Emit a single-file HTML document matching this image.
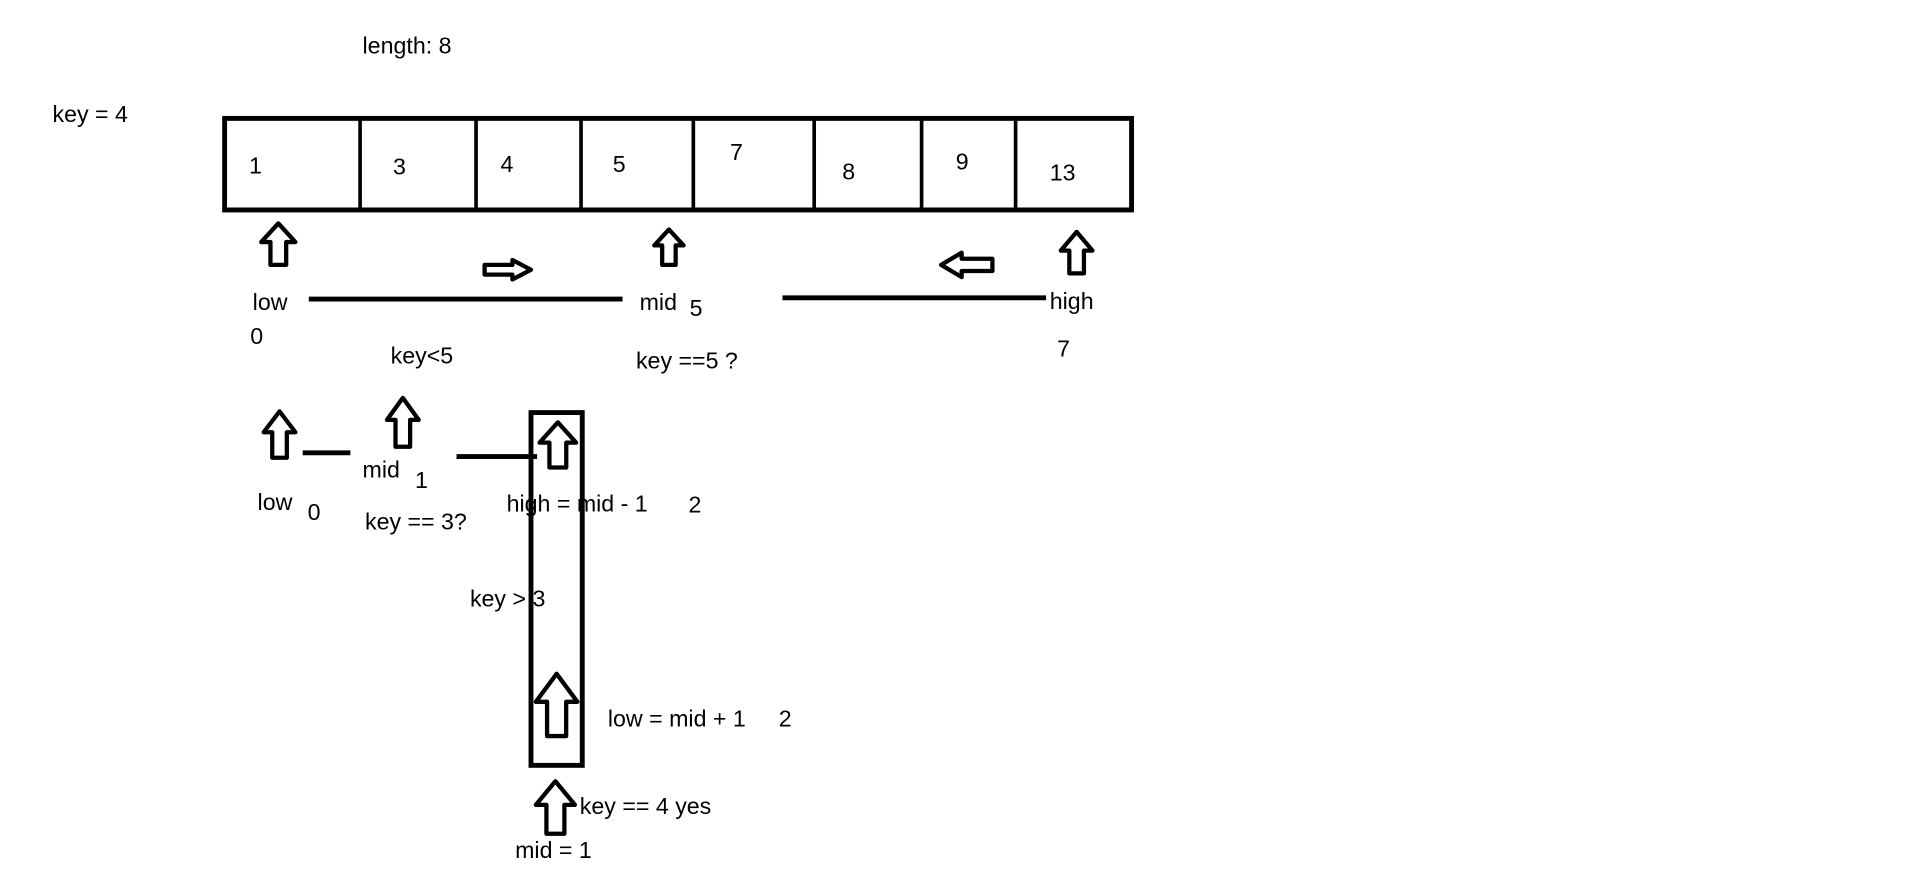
<!DOCTYPE html>
<html><head><meta charset="utf-8"><style>
html,body{margin:0;padding:0;background:#fff;width:1914px;height:889px;overflow:hidden}
svg text{font-family:"Liberation Sans",sans-serif;font-size:19px;fill:#000}
</style></head><body>
<svg id="s" width="1914" height="889" viewBox="0 0 1568 728.3" preserveAspectRatio="none" xmlns="http://www.w3.org/2000/svg">
<text x="297" y="44">length: 8</text>
<text x="43" y="100">key = 4</text>
<rect x="184" y="97" width="743" height="75" fill="none" stroke="#000" stroke-width="4"/>
<g id="cells"></g>
<line x1="253" y1="245" x2="510" y2="245" stroke="#000" stroke-width="4"/>
<line x1="641" y1="244" x2="857" y2="244" stroke="#000" stroke-width="4"/>
<text x="207" y="254">low</text>
<text x="205" y="282">0</text>
<text x="524" y="254">mid</text>
<text x="565" y="259">5</text>
<text x="860" y="253">high</text>
<text x="866" y="292">7</text>
<text x="320" y="298">key&lt;5</text>
<text x="521" y="302">key ==5 ?</text>
<line x1="248" y1="371" x2="287" y2="371" stroke="#000" stroke-width="4"/>
<line x1="374" y1="374" x2="440" y2="374" stroke="#000" stroke-width="4"/>
<rect x="435" y="338" width="42" height="289" fill="none" stroke="#000" stroke-width="4"/>
<text x="297" y="391">mid</text>
<text x="340" y="400">1</text>
<text x="211" y="418">low</text>
<text x="252" y="426">0</text>
<text x="415" y="419">high = mid - 1</text>
<text x="564" y="420">2</text>
<text x="299" y="434">key == 3?</text>
<text x="385" y="497">key &gt; 3</text>
<text x="498" y="595">low = mid + 1</text>
<text x="638" y="595">2</text>
<text x="475" y="667">key == 4 yes</text>
<text x="422" y="703">mid = 1</text>
<g id="arrows"></g>
</svg>
<script>
const values=[1,3,4,5,7,8,9,13];
const NS="http://www.w3.org/2000/svg";
const dividers=[295,390,476,568,667,755,832];
const lx=[204,322,410,502,598,690,783,860];
const ly=[142,143,141,141,131,147,139,148];
const cells=document.getElementById('cells');
dividers.forEach(x=>{const l=document.createElementNS(NS,'line');


l.setAttribute('x1',x);l.setAttribute('x2',x);l.setAttribute('y1',97);l.setAttribute('y2',172);
l.setAttribute('stroke','#000');l.setAttribute('stroke-width','3');cells.appendChild(l);});
values.forEach((v,i)=>{const t=document.createElementNS(NS,'text');


t.setAttribute('x',lx[i]);t.setAttribute('y',ly[i]);t.textContent=v;cells.appendChild(t);});
const ag=document.getElementById('arrows');
function up(cx,top,bot,w){const hw=w/2,sw=w*0.23,hh=(bot-top)*0.45;
return `M${cx},${top} L${cx+hw},${top+hh} L${cx+sw},${top+hh} L${cx+sw},${bot} L${cx-sw},${bot} L${cx-sw},${top+hh} L${cx-hw},${top+hh} Z`;}
function horiz(x1,x2,cy,h,dir){const hl=(x2-x1)*0.4,sh=h*0.25,hh=h/2;
if(dir>0)return `M${x2},${cy} L${x2-hl},${cy-hh} L${x2-hl},${cy-sh} L${x1},${cy-sh} L${x1},${cy+sh} L${x2-hl},${cy+sh} L${x2-hl},${cy+hh} Z`;
return `M${x1},${cy} L${x1+hl},${cy-hh} L${x1+hl},${cy-sh} L${x2},${cy-sh} L${x2},${cy+sh} L${x1+hl},${cy+sh} L${x1+hl},${cy+hh} Z`;}
const arrs=[up(228,183,217,28),up(548,188,217,24),up(882,190,224,26),horiz(397,435,221,16,1),horiz(771,813,217,20,-1),
up(229,337,375,26),up(330,326,366,26),up(457,346,383,30),up(456,552,603,34),up(455,640,683,32)];
arrs.forEach(d=>{const p=document.createElementNS(NS,'path');


p.setAttribute('d',d);p.setAttribute('fill','#fff');p.setAttribute('stroke','#000');p.setAttribute('stroke-width','3.5');p.setAttribute('stroke-linejoin','round');ag.appendChild(p);});
</script>
</body></html>
